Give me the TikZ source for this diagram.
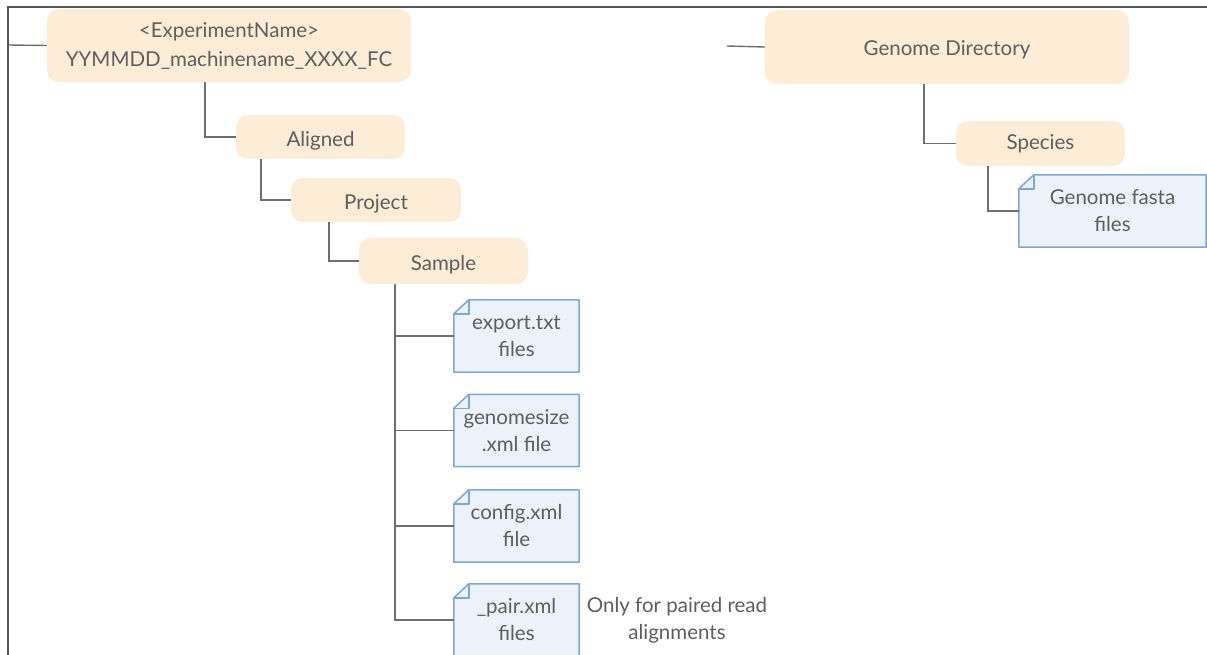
\documentclass[tikz,border=0pt]{standalone}
\usepackage{fontspec}
\setmainfont{Lato}
\usetikzlibrary{calc,backgrounds}
\definecolor{dirfill}{HTML}{FDEDD6}
\definecolor{filefill}{HTML}{EBF2F9}
\definecolor{filedraw}{HTML}{7EA6D6}
\definecolor{txt}{HTML}{5E5E5E}
\definecolor{conn}{HTML}{6E6E6E}
\definecolor{frame}{HTML}{555555}
\newcommand{\lowtext}[2]{\raisebox{-#1}[\height][\depth]{#2}}
\tikzset{
  dirbox/.style={fill=dirfill, rounded corners=12pt, inner sep=0pt, text=txt, align=center},
  filebox/.style={inner sep=0pt, text=txt, align=center, minimum width=125pt, minimum height=72pt},
  fileshape/.style={fill=filefill, draw=filedraw, line width=1.5pt, line join=round},
  conline/.style={draw=conn, line width=1.4pt},
  frameline/.style={draw=frame, line width=1.8pt},
  txtsize/.style={font=\fontsize{20.5}{27}\selectfont},
}
\begin{document}
\begin{tikzpicture}[x=1pt,y=-1pt,txtsize]
\useasboundingbox (0,0) rectangle (1207,655);
% frame
\draw[frameline] (8,656) -- (8,7) -- (1208,7);
\coordinate (frameL) at (8,45);
\coordinate (gfree) at (727,46);
% directory nodes
\node[dirbox, minimum width=364pt, minimum height=73pt] (exp) at (229,45.5) {\textless ExperimentName\textgreater\\[2pt]YYMMDD\_machinename\_XXXX\_FC};
\node[dirbox, minimum width=169pt, minimum height=44pt] (aligned) at (320.5,137) {\lowtext{4pt}{Aligned}};
\node[dirbox, minimum width=170pt, minimum height=44pt] (project) at (376,200) {\lowtext{4pt}{Project}};
\node[dirbox, minimum width=169pt, minimum height=46pt] (sample) at (443.5,261) {\lowtext{4pt}{Sample}};
\node[dirbox, minimum width=364pt, minimum height=74pt] (gdir) at (947,47) {\lowtext{3pt}{Genome Directory}};
\node[dirbox, minimum width=169pt, minimum height=45pt] (species) at (1040.5,143.5) {Species};
% file nodes
\node[filebox] (export) at (516.5,336) {export.txt\\files};
\node[filebox] (gsize) at (516.5,430.5) {genomesize\\.xml file};
\node[filebox] (config) at (516.5,526) {config.xml\\file};
\node[filebox] (pair) at (516.5,620) {\_pair.xml\\files};
\node[filebox, minimum width=187pt] (fasta) at (1112.5,211) {Genome fasta\\files};
\node[text=txt, align=center, inner sep=0pt] (note) at (677,620) {Only for paired read\\alignments};
% file shapes (behind the texts)
\begin{scope}[on background layer]
\foreach \n in {export,gsize,config,pair,fasta}{
  \path[fileshape] ($(\n.north west)+(0,14)$) -- ($(\n.north west)+(15,0)$) -- (\n.north east) -- (\n.south east) -- (\n.south west) -- cycle;
  \draw[fileshape, fill=none] ($(\n.north west)+(0,14)$) -- ($(\n.north west)+(15,14)$) -- ($(\n.north west)+(15,0)$);
}
% connectors
\draw[conline] (frameL) -- (exp.west);
\draw[conline] (gfree) -- (gdir.west);
\draw[conline] ([xshift=158pt]exp.south west) |- (aligned.west);
\draw[conline] ([xshift=25pt]aligned.south west) |- (project.west);
\draw[conline] ([xshift=38pt]project.south west) |- (sample.west);
\draw[conline] ([xshift=36pt]sample.south west) |- (export.west);
\draw[conline] ([xshift=36pt]sample.south west) |- (gsize.west);
\draw[conline] ([xshift=36pt]sample.south west) |- (config.west);
\draw[conline] ([xshift=36pt]sample.south west) |- (pair.west);
\draw[conline] ([xshift=159pt]gdir.south west) |- (species.west);
\draw[conline] ([xshift=32pt]species.south west) |- (fasta.west);
\end{scope}
\end{tikzpicture}
\end{document}
